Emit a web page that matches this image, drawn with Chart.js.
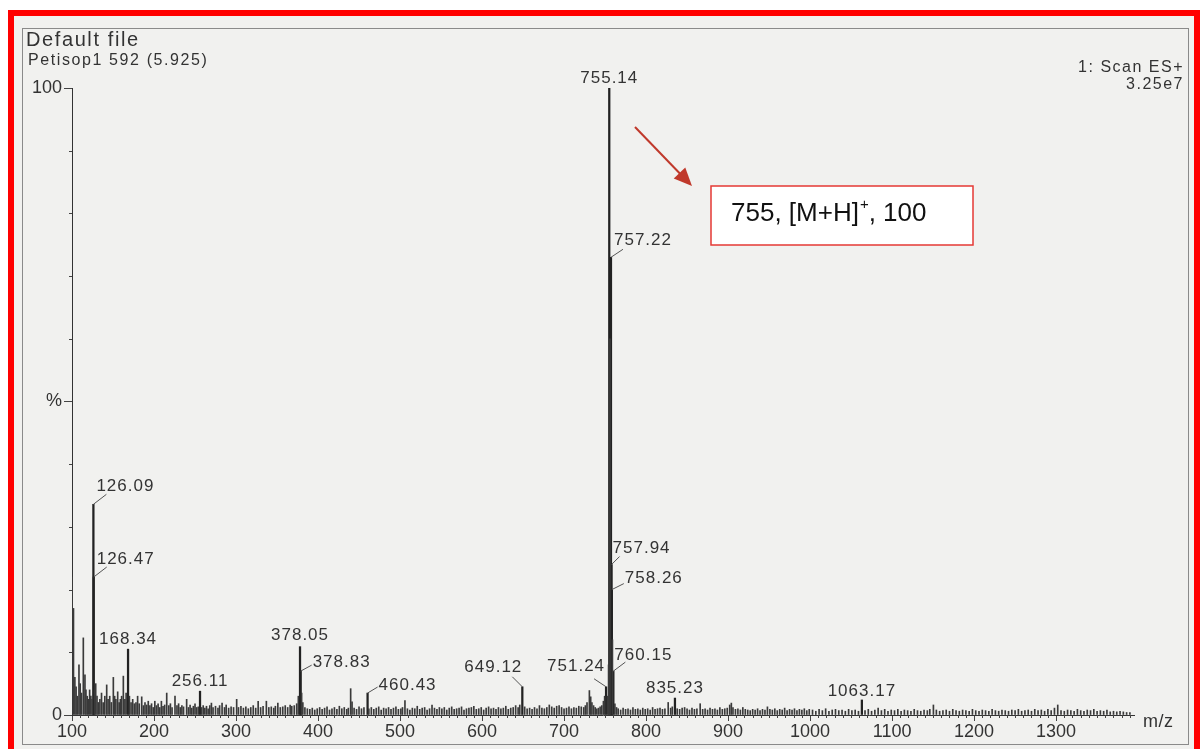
<!DOCTYPE html>
<html>
<head>
<meta charset="utf-8">
<title>Petisop1 ES+ spectrum</title>
<script src="https://cdn.jsdelivr.net/npm/chart.js@4.4.1/dist/chart.umd.min.js"></script>
<style>
  html, body { margin: 0; padding: 0; background: #fff; }
  #spectrum { display: block; }
</style>
</head>
<body>
<canvas id="spectrum" width="1200" height="749"></canvas>
<script>
// labelled peaks: m/z and relative intensity (%)
const peakMz = [126.09, 126.47, 168.34, 256.11, 378.05, 378.83, 460.43, 649.12, 751.24, 755.14, 757.22, 757.94, 758.26, 760.15, 835.23, 1063.17];
const peakIntensity = [33.6, 22, 10.5, 3.8, 10.9, 7, 3.5, 4.5, 4.5, 100, 73, 24, 20, 7, 2.7, 2.4];

// unlabelled ions and baseline noise
const noiseMz = [
  100.2, 101.8, 103.5, 105, 106.5, 108.5, 110, 111.5, 113.8, 115.8, 117, 118.5, 120, 121.5, 123, 124.5, 127.5, 128.9, 130.5, 132, 134, 136, 138, 140, 142.3, 144, 146, 148, 150.4, 152, 153.5, 155.7, 157.5, 159, 160.5, 162.6, 164.5, 166, 170, 172, 174, 176, 178, 180, 182, 185, 187, 189, 191, 193, 195, 197, 199,
  201, 203, 205, 207, 209, 211, 213, 215.5, 218, 220, 222, 225.6, 228, 230, 232, 234, 236, 239.8, 242, 244, 246, 248, 250, 252, 254, 258, 260, 262, 264, 266, 268, 270, 272, 275, 278, 280, 283, 286, 288, 291, 294, 297, 300.8, 303, 306, 309, 312, 315, 318, 321, 324, 327, 330, 333, 337, 340, 343, 346, 348, 351, 354, 357, 360, 363, 366, 368, 371, 374, 376, 380, 381.5, 384, 387, 390, 393, 396, 399,
  402, 405, 408, 411, 414, 417, 420, 423, 426, 429, 432, 435, 437, 439.8, 441.5, 444, 447, 450, 453, 456, 462, 465, 468, 471, 474, 477, 480, 483, 486, 489, 492, 495, 498, 501, 503, 506, 509, 512, 515, 518, 521, 524, 527, 530, 533, 536, 539, 542, 545, 548, 551, 554, 557, 560, 563, 566, 569, 572, 575, 578, 581, 584, 587, 590, 593, 596, 599,
  602, 605, 608, 611, 614, 617, 620, 623, 626, 629, 632, 635, 638, 641, 644, 646, 652, 655, 658, 661, 664, 667, 670, 673, 676, 679, 682, 685, 688, 691, 694, 697, 700, 703, 706, 709, 712, 715, 718, 721, 724, 726, 728, 730.9, 732.5, 734, 736, 738, 740, 742, 744, 746, 748, 749.5, 753, 754.3, 756, 759,
  762, 764, 766, 769, 772, 775, 778, 781, 784, 787, 790, 793, 796, 799, 802, 805, 808, 811, 814, 817, 820, 823, 827, 830, 832, 838, 841, 844, 847, 850, 853, 856, 859, 862, 866, 869, 872, 875, 878, 881, 884, 887, 890, 893, 896, 899, 902, 904, 906, 909, 912, 915, 918, 921, 924, 927, 930, 933, 936, 939, 942, 945, 948, 951, 954, 957, 960, 963, 966, 969, 972, 975, 978, 981, 984, 987, 990, 993, 996, 999,
  1003, 1007, 1011, 1015, 1019, 1023, 1027, 1031, 1035, 1039, 1043, 1047, 1051, 1055, 1059, 1067, 1071, 1075, 1079, 1083, 1087, 1091, 1095, 1099, 1103, 1107, 1111, 1115, 1119, 1123, 1127, 1131, 1135, 1139, 1143, 1146, 1150.4, 1154, 1158, 1162, 1166, 1170, 1174, 1178, 1182, 1186, 1190, 1194, 1198,
  1202, 1206, 1210, 1214, 1218, 1222, 1226, 1230, 1234, 1238, 1242, 1246, 1250, 1254, 1258, 1262, 1266, 1270, 1274, 1278, 1282, 1286, 1290, 1294, 1298, 1302, 1306, 1310, 1314, 1318, 1322, 1326, 1330, 1334, 1338, 1342, 1346, 1350, 1354, 1358, 1362, 1366, 1370, 1374, 1378, 1382, 1386, 1390
];
const noiseIntensity = [
  22, 17, 6, 4.5, 3, 8, 5, 3.5, 12.3, 6.4, 4, 3, 2.5, 4, 3, 2.5, 4, 5, 3, 2, 2.5, 3.5, 2, 3, 4.8, 2.5, 3, 2, 6, 3, 2.5, 3.7, 2, 2.5, 3, 6.2, 2.5, 3.5, 3, 2, 2.5, 1.8, 2, 3, 1.8, 2.9, 1.5, 2, 1.6, 2.2, 1.5, 1.8, 1.2,
  2.2, 1.5, 1.8, 1.2, 2.2, 1.4, 1.6, 3.5, 1.5, 1.8, 1.2, 3, 1.5, 1.8, 1.2, 1.5, 1.3, 2.5, 1.2, 1.6, 1.1, 1.4, 1.8, 1.2, 1.3, 1.2, 1.5, 1.1, 1.4, 1, 1.5, 1.9, 1.2, 1.4, 1.1, 1.5, 1.9, 1.2, 1.6, 1.1, 1.3, 1.2, 2.5, 1.2, 1.4, 1.1, 1.3, 1, 1.2, 1.5, 1.1, 2.2, 1.2, 1.4, 2.2, 1.2, 1.3, 1.1, 1.4, 1.9, 1.2, 1.3, 1.5, 1.2, 1.6, 1.4, 1.5, 1.8, 3, 3.5, 2, 1.2, 1, 0.9, 1.1, 0.8, 1,
  1.2, 0.9, 1.1, 1.3, 0.8, 1, 1.2, 0.9, 1.4, 1, 1.2, 0.9, 1.1, 4.2, 2.1, 1.1, 0.9, 1.3, 1, 1.2, 1, 1.2, 0.9, 1.1, 1.3, 0.8, 1.1, 1, 1.2, 0.9, 1.1, 1.3, 0.9, 1, 1.2, 2.3, 1, 0.8, 1.1, 1, 1.4, 0.9, 1.1, 1.2, 0.8, 1, 1.6, 1.1, 0.9, 1.2, 1, 1.2, 0.8, 1.1, 1.3, 0.9, 1, 1.1, 1.3, 0.8, 1, 1.1, 1.2, 1.4, 0.9, 1, 1.2,
  0.8, 1.1, 1.3, 1, 1.1, 0.9, 1.2, 1, 1.1, 1.4, 0.9, 1.1, 1.2, 1.5, 1.2, 1.6, 1.3, 1, 1.1, 0.9, 1.2, 1, 1.5, 1.1, 1, 1.2, 1.6, 1.3, 1.1, 1.4, 1.5, 1.2, 1, 1.1, 1.3, 1, 1.2, 1.1, 1.4, 1.3, 1.2, 1.5, 2, 3.9, 2.9, 2, 1.5, 1.2, 1, 1.1, 1.3, 1.5, 2.2, 3, 3, 8, 60, 12,
  1.8, 1.2, 1, 0.8, 1.1, 0.9, 1, 0.8, 1.2, 0.9, 1, 0.8, 1.1, 0.9, 1, 0.8, 1.2, 0.9, 1, 1.1, 0.9, 1, 2, 1.1, 1.3, 1, 0.9, 1.1, 1.2, 1, 0.8, 1.1, 0.9, 1, 1.8, 0.9, 1, 0.8, 1.1, 0.9, 1, 0.8, 1.2, 0.9, 1, 1.1, 1.6, 1.9, 1.2, 0.9, 1, 0.8, 1.2, 0.9, 0.8, 0.7, 0.9, 0.8, 1, 0.7, 0.9, 0.8, 1.3, 0.9, 0.8, 1, 0.7, 0.9, 0.8, 1.1, 0.7, 0.9, 0.8, 1, 0.7, 0.9, 0.8, 1, 0.7, 0.9,
  0.8, 0.6, 0.9, 0.7, 1, 0.6, 0.8, 0.9, 0.7, 0.8, 0.6, 0.9, 0.7, 0.8, 0.6, 0.7, 0.9, 0.6, 0.8, 1.1, 0.7, 0.9, 0.6, 0.8, 0.7, 0.9, 0.6, 0.8, 0.7, 0.6, 0.9, 0.7, 0.6, 0.8, 0.7, 0.9, 1.6, 0.8, 0.6, 0.7, 0.8, 0.6, 0.9, 0.7, 0.6, 0.8, 0.7, 0.6, 0.9,
  0.7, 0.6, 0.8, 0.7, 0.6, 0.9, 0.7, 0.6, 0.8, 0.7, 0.6, 0.8, 0.7, 0.9, 0.6, 0.7, 0.8, 0.6, 0.9, 0.7, 0.8, 0.6, 0.9, 0.7, 1.1, 1.6, 0.7, 0.6, 0.8, 0.7, 0.6, 0.9, 0.7, 0.6, 0.8, 0.7, 0.9, 0.6, 0.7, 0.6, 0.8, 0.5, 0.6, 0.5, 0.6, 0.5, 0.4, 0.4
];

const xTickValues = [100, 200, 300, 400, 500, 600, 700, 800, 900, 1000, 1100, 1200, 1300];
const yTickValues = [0, 50, 100];
const yTickLabels = ['0', '%', '100'];
const xAxisTitle = 'm/z';
const headerLines = ['Default file', 'Petisop1 592 (5.925)'];
const scanLines = ['1: Scan ES+', '3.25e7'];
const annotation = { before: '755, [M+H]', sup: '+', after: ', 100' };

const FONT = '"Liberation Sans", Arial, sans-serif';
const INK = '#333';

// where each peak label sits, relative to the top of its stick (px)
const labelPos = {
  '126.09': { tx: 3, ty: -18, align: 'left', leader: [13, -10] },
  '126.47': { tx: 3, ty: -18, align: 'left', leader: [13, -10] },
  '168.34': { tx: 0, ty: -10, align: 'center' },
  '256.11': { tx: 0, ty: -10, align: 'center' },
  '378.05': { tx: 0, ty: -11, align: 'center' },
  '378.83': { tx: 12, ty: -9, align: 'left', leader: [11, -6] },
  '460.43': { tx: 11, ty: -8, align: 'left', leader: [10, -6] },
  '649.12': { tx: 0, ty: -19, align: 'right', leader: [-10, -10] },
  '751.24': { tx: -1, ty: -20, align: 'right', leader: [-12, -8] },
  '755.14': { tx: 0, ty: -10, align: 'center' },
  '757.22': { tx: 3, ty: -17, align: 'left', leader: [12, -8] },
  '757.94': { tx: 1, ty: -16, align: 'left', leader: [8, -8] },
  '758.26': { tx: 13, ty: -11, align: 'left', leader: [12, -6] },
  '760.15': { tx: 1, ty: -16, align: 'left', leader: [12, -9] },
  '835.23': { tx: 0, ty: -10, align: 'center' },
  '1063.17': { tx: 0, ty: -9, align: 'center' }
};

const pageDecor = {
  id: 'pageDecor',
  beforeDraw(chart) {
    const c = chart.ctx;
    c.save();
    c.fillStyle = '#ffffff';
    c.fillRect(0, 0, chart.width, chart.height);
    c.fillStyle = '#f1f1ef';
    c.fillRect(14, 16, 1180, 740);
    c.strokeStyle = '#8a8a8a';
    c.lineWidth = 1;
    c.strokeRect(22.5, 28.5, 1166, 716);
    c.restore();
  },
  afterDraw(chart) {
    const c = chart.ctx;
    const xs = chart.scales.x, ys = chart.scales.y;
    const area = chart.chartArea;
    c.save();

    // minor ticks
    c.strokeStyle = '#444';
    c.lineWidth = 1;
    c.beginPath();
    for (let v = 110; v <= 1390; v += 10) {
      if (v % 100 === 0) continue;
      const x = Math.round(xs.getPixelForValue(v)) + 0.5;
      c.moveTo(x, area.bottom);
      c.lineTo(x, area.bottom + 3);
    }
    for (let v = 10; v < 100; v += 10) {
      if (v === 50) continue;
      const y = Math.round(ys.getPixelForValue(v)) + 0.5;
      c.moveTo(area.left - 3, y);
      c.lineTo(area.left, y);
    }
    c.stroke();

    // peak labels
    c.font = '17px ' + FONT;
    c.fillStyle = INK;
    c.textBaseline = 'middle';
    c.letterSpacing = '1px';
    peakMz.forEach((mz, i) => {
      const key = mz.toFixed(2);
      const p = labelPos[key];
      if (!p) return;
      const px = xs.getPixelForValue(mz);
      const py = ys.getPixelForValue(peakIntensity[i]);
      if (p.leader) {
        c.strokeStyle = '#555';
        c.beginPath();
        c.moveTo(px, py);
        c.lineTo(px + p.leader[0], py + p.leader[1]);
        c.stroke();
      }
      c.textAlign = p.align;
      c.fillText(key, px + p.tx, py + p.ty);
    });

    // header text
    c.textAlign = 'left';
    c.letterSpacing = '1.6px';
    c.font = '20px ' + FONT;
    c.fillText(headerLines[0], 26, 40);
    c.font = '16px ' + FONT;
    c.fillText(headerLines[1], 28, 61);
    c.textAlign = 'right';
    c.letterSpacing = '1.5px';
    c.fillText(scanLines[0], 1184, 68);
    c.fillText(scanLines[1], 1184, 85);
    c.letterSpacing = '0.5px';
    c.textAlign = 'left';
    c.font = '18px ' + FONT;
    c.fillText(xAxisTitle, 1143, 722);

    // annotation box and arrow
    c.letterSpacing = '0px';
    c.fillStyle = '#ffffff';
    c.fillRect(711, 186, 262, 59);
    c.strokeStyle = '#e53935';
    c.lineWidth = 1.5;
    c.strokeRect(711, 186, 262, 59);
    c.fillStyle = '#111';
    c.font = '26px ' + FONT;
    c.textBaseline = 'middle';
    let tx = 731;
    c.fillText(annotation.before, tx, 214);
    tx += c.measureText(annotation.before).width;
    c.font = '15px ' + FONT;
    c.fillText(annotation.sup, tx + 1, 205);
    tx += c.measureText(annotation.sup).width + 1;
    c.font = '26px ' + FONT;
    c.fillText(annotation.after, tx, 214);

    const x0 = 635, y0 = 127, x1 = 692, y1 = 186;
    const ang = Math.atan2(y1 - y0, x1 - x0);
    c.strokeStyle = '#c0392b';
    c.fillStyle = '#c0392b';
    c.lineWidth = 2;
    c.beginPath();
    c.moveTo(x0, y0);
    c.lineTo(x1 - 14 * Math.cos(ang), y1 - 14 * Math.sin(ang));
    c.stroke();
    c.beginPath();
    c.moveTo(x1, y1);
    c.lineTo(x1 - 18 * Math.cos(ang) + 8 * Math.sin(ang), y1 - 18 * Math.sin(ang) - 8 * Math.cos(ang));
    c.lineTo(x1 - 18 * Math.cos(ang) - 8 * Math.sin(ang), y1 - 18 * Math.sin(ang) + 8 * Math.cos(ang));
    c.closePath();
    c.fill();

    // red outer frame
    c.strokeStyle = '#ff0000';
    c.lineWidth = 6;
    c.strokeRect(11, 13, 1186, 760);
    c.restore();
  }
};

new Chart(document.getElementById('spectrum'), {
  type: 'bar',
  data: {
    datasets: [
      {
        data: noiseMz.map((x, i) => ({ x, y: noiseIntensity[i] })),
        backgroundColor: '#3a3a3a',
        barThickness: 1,
        grouped: false
      },
      {
        data: peakMz.map((x, i) => ({ x, y: peakIntensity[i] })),
        backgroundColor: '#222',
        barThickness: 1.6,
        grouped: false
      }
    ]
  },
  options: {
    responsive: false,
    animation: false,
    events: [],
    layout: { padding: { top: 88, left: 0, right: 66, bottom: 0 } },
    plugins: { legend: { display: false }, tooltip: { enabled: false } },
    scales: {
      x: {
        type: 'linear',
        offset: false,
        min: 100,
        max: 1395,
        afterFit: s => { s.height = 34; },
        afterBuildTicks: s => { s.ticks = xTickValues.map(v => ({ value: v })); },
        border: { display: true, color: '#333', width: 1 },
        grid: { display: true, offset: false, drawOnChartArea: false, drawTicks: true, tickLength: 6, color: '#444' },
        ticks: {
          autoSkip: false,
          maxRotation: 0,
          minRotation: 0,
          padding: 0,
          color: INK,
          font: { family: FONT, size: 18 },
          callback: v => String(v)
        }
      },
      y: {
        min: 0,
        max: 100,
        afterFit: s => { s.width = 72; },
        afterBuildTicks: s => { s.ticks = yTickValues.map(v => ({ value: v })); },
        border: { display: true, color: '#333', width: 1 },
        grid: { display: true, drawOnChartArea: false, drawTicks: true, tickLength: 8, color: '#444' },
        ticks: {
          padding: 2,
          color: INK,
          font: { family: FONT, size: 18 },
          callback: v => yTickLabels[yTickValues.indexOf(v)]
        }
      }
    }
  },
  plugins: [pageDecor]
});
</script>
</body>
</html>
